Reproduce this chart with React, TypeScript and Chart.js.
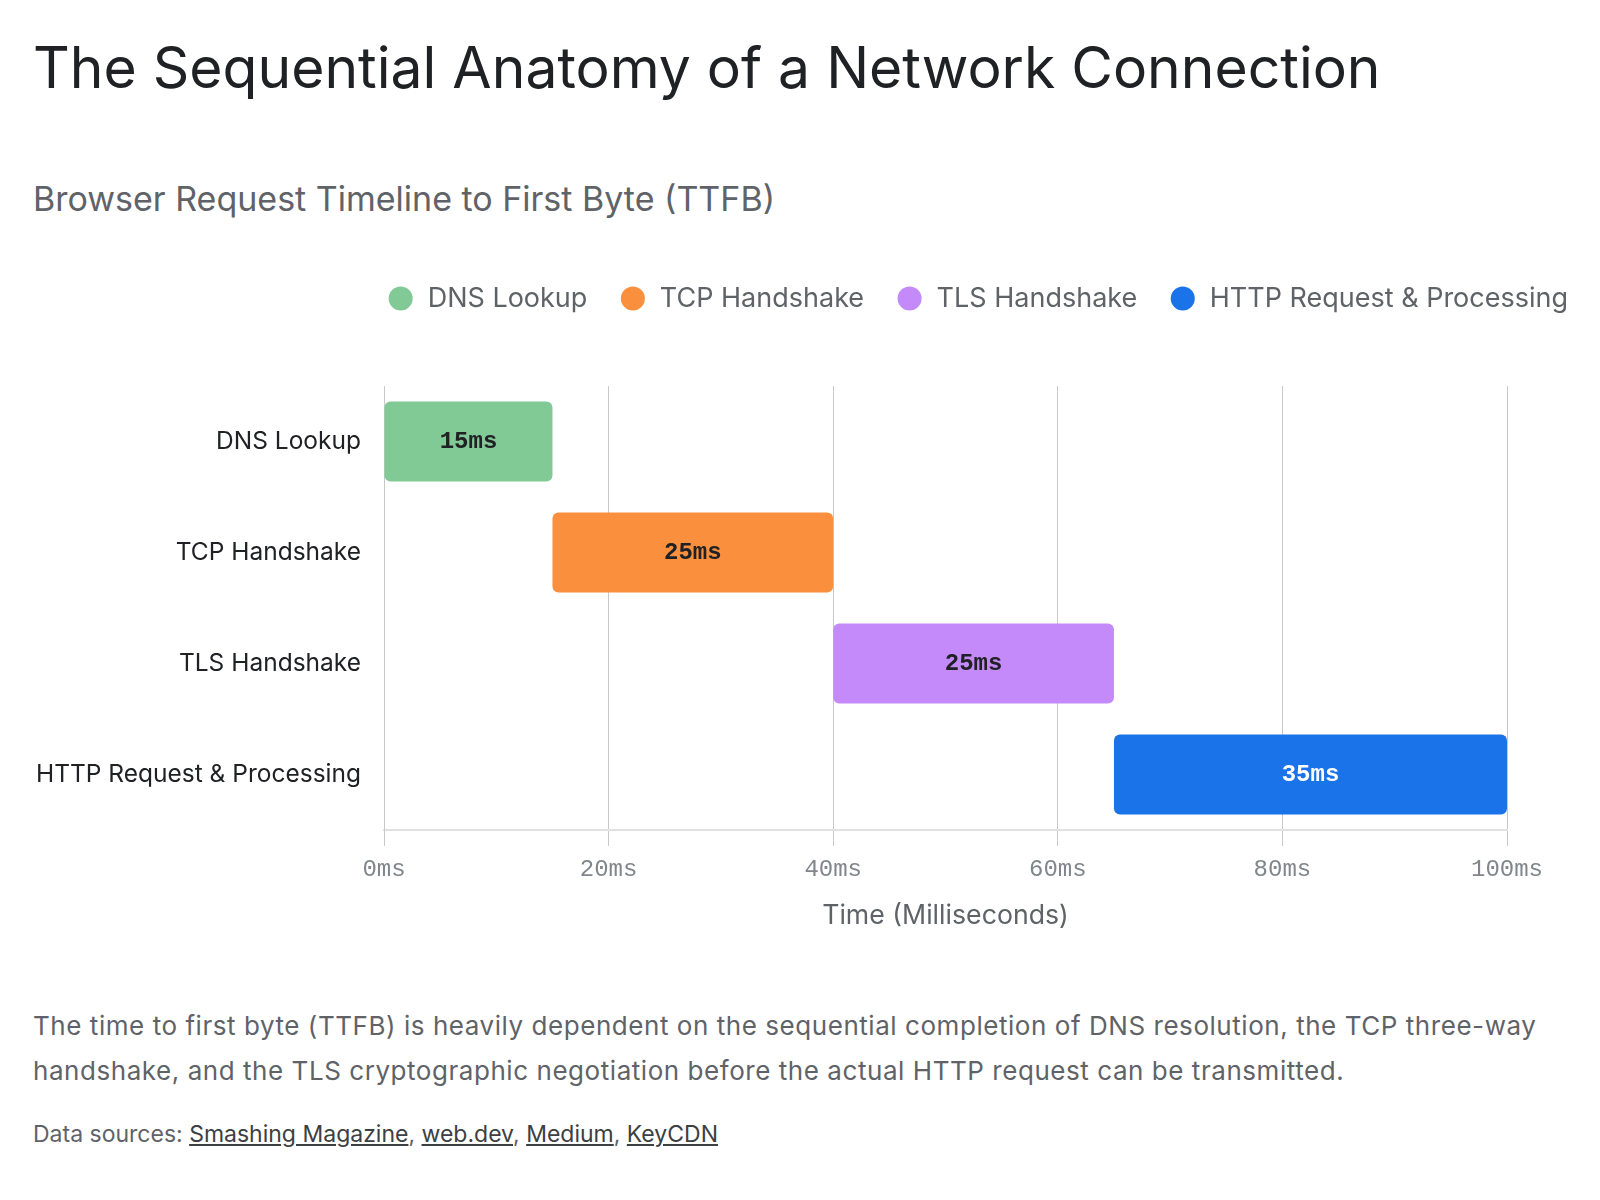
import React, { useEffect, useRef } from "react";
import { Chart, registerables } from "chart.js";

Chart.register(...registerables);

const phases = ["DNS Lookup", "TCP Handshake", "TLS Handshake", "HTTP Request & Processing"];
const startMs = [0, 15, 40, 65];
const endMs = [15, 40, 65, 100];
const barColors = ["#81c995", "#fa903e", "#c58af9", "#1a73e8"];
const labelColors = ["#202124", "#202124", "#202124", "#ffffff"];
const xTickValues = [0, 20, 40, 60, 80, 100];
const sources = ["Smashing Magazine", "web.dev", "Medium", "KeyCDN"];

const SANS = "Inter, Roboto, 'Noto Sans', sans-serif";
const MONO = "'Liberation Mono', 'DejaVu Sans Mono', monospace";

const barLabelPlugin = {
  id: "barLabels",
  afterDatasetsDraw(chart: any) {
    const ctx = chart.ctx;
    ctx.save();
    ctx.font = `bold 24px ${MONO}`;
    ctx.textAlign = "center";
    ctx.textBaseline = "middle";
    chart.data.datasets.forEach((ds: any, i: number) => {
      const meta = chart.getDatasetMeta(i);
      meta.data.forEach((el: any, j: number) => {
        const v = ds.data[j];
        if (!v) return;
        const cx = (el.x + el.base) / 2;
        ctx.fillStyle = labelColors[j];
        ctx.fillText(`${v[1] - v[0]}ms`, cx, el.y);
      });
    });
    ctx.restore();
  },
};

function TimelineChart() {
  const ref = useRef<HTMLCanvasElement | null>(null);
  useEffect(() => {
    if (!ref.current) return;
    const datasets = phases.map((p, i) => ({
      label: p,
      data: phases.map((_, j) => (j === i ? [startMs[i], endMs[i]] : null)),
      backgroundColor: barColors[i],
      borderColor: barColors[i],
      borderWidth: 0,
      borderRadius: 6,
      borderSkipped: false,
      grouped: false,
      categoryPercentage: 0.8,
      barPercentage: 0.9,
    }));
    const chart = new Chart(ref.current, {
      type: "bar",
      data: { labels: phases, datasets: datasets as any },
      plugins: [barLabelPlugin],
      options: {
        indexAxis: "y",
        animation: false,
        responsive: true,
        maintainAspectRatio: false,
        layout: { padding: { left: 32, right: 0, top: 13, bottom: 0 } },
        plugins: {
          tooltip: { enabled: false },
          legend: {
            display: true,
            position: "top",
            align: "end",
            labels: {
              usePointStyle: true,
              pointStyle: "circle",
              boxWidth: 28,
              boxHeight: 17,
              padding: 32,
              color: "#5f6368",
              font: { family: SANS, size: 27 },
            },
          },
        },
        scales: {
          x: {
            type: "linear",
            position: "bottom",
            min: 0,
            max: 100,
            afterBuildTicks: (s: any) => {
              s.ticks = xTickValues.map((v) => ({ value: v }));
            },
            afterFit: (s: any) => {
              s.height = 110;
            },
            grid: { color: "#c8c8c8", lineWidth: 1, drawTicks: true, tickLength: 16 },
            border: { display: true, color: "#e0e0e0", width: 2 },
            ticks: {
              color: "#80868b",
              padding: 9,
              font: { family: MONO, size: 24 },
              callback: (v: any) => `${v}ms`,
              maxRotation: 0,
            },
            title: {
              display: true,
              text: "Time (Milliseconds)",
              color: "#5f6368",
              font: { family: SANS, size: 26.7 },
              padding: { top: 0, bottom: 8 },
            },
          },
          x2: {
            type: "linear",
            position: "top",
            display: true,
            afterFit: (s: any) => {
              s.height = 64;
            },
            grid: { display: false, drawTicks: false },
            border: { display: false },
            ticks: { display: false },
          },
          y: {
            type: "category",
            position: "left",
            afterFit: (s: any) => {
              s.width = 352;
            },
            grid: { display: false, drawTicks: false },
            border: { display: true, color: "#c8c8c8", width: 1 },
            ticks: {
              color: "#202124",
              padding: 23,
              font: { family: SANS, size: 24.5 },
            },
          },
          y2: {
            type: "linear",
            position: "right",
            display: true,
            afterFit: (s: any) => {
              s.width = 93;
            },
            grid: { display: false, drawTicks: false },
            border: { display: false },
            ticks: { display: false },
          },
        },
      } as any,
    });
    return () => chart.destroy();
  }, []);
  return (
    <div style={{ position: "absolute", left: 0, top: 240, width: 1600, height: 700 }}>
      <canvas ref={ref} />
    </div>
  );
}

export default function App() {
  useEffect(() => {
    document.body.style.margin = "0";
    document.body.style.background = "#ffffff";
  }, []);
  return (
    <div
      style={{
        position: "relative",
        width: 1600,
        height: 1200,
        background: "#ffffff",
        fontFamily: SANS,
        overflow: "hidden",
      }}
    >
      <div
        style={{
          position: "absolute",
          left: 33,
          top: 33,
          fontSize: 57,
          lineHeight: "69.6px",
          color: "#202124",
          whiteSpace: "nowrap",
        }}
      >
        The Sequential Anatomy of a Network Connection
      </div>
      <div
        style={{
          position: "absolute",
          left: 33,
          top: 179,
          fontSize: 34,
          lineHeight: "40.8px",
          color: "#5f6368",
          whiteSpace: "nowrap",
        }}
      >
        Browser Request Timeline to First Byte (TTFB)
      </div>
      <TimelineChart />
      <div
        style={{
          position: "absolute",
          left: 33,
          top: 1003,
          fontSize: 26,
          letterSpacing: "0.55px",
          lineHeight: "45px",
          color: "#5f6368",
          whiteSpace: "nowrap",
        }}
      >
        The time to first byte (TTFB) is heavily dependent on the sequential completion of DNS resolution, the TCP three-way
        <br />
        handshake, and the TLS cryptographic negotiation before the actual HTTP request can be transmitted.
      </div>
      <div
        style={{
          position: "absolute",
          left: 33,
          top: 1121,
          fontSize: 23,
          lineHeight: "27.6px",
          color: "#5f6368",
          whiteSpace: "nowrap",
        }}
      >
        Data sources:{" "}
        {sources.map((s, i) => (
          <React.Fragment key={s}>
            <a href="#" style={{ color: "#3c4043", textDecoration: "underline" }}>
              {s}
            </a>
            {i < sources.length - 1 ? ", " : ""}
          </React.Fragment>
        ))}
      </div>
    </div>
  );
}
